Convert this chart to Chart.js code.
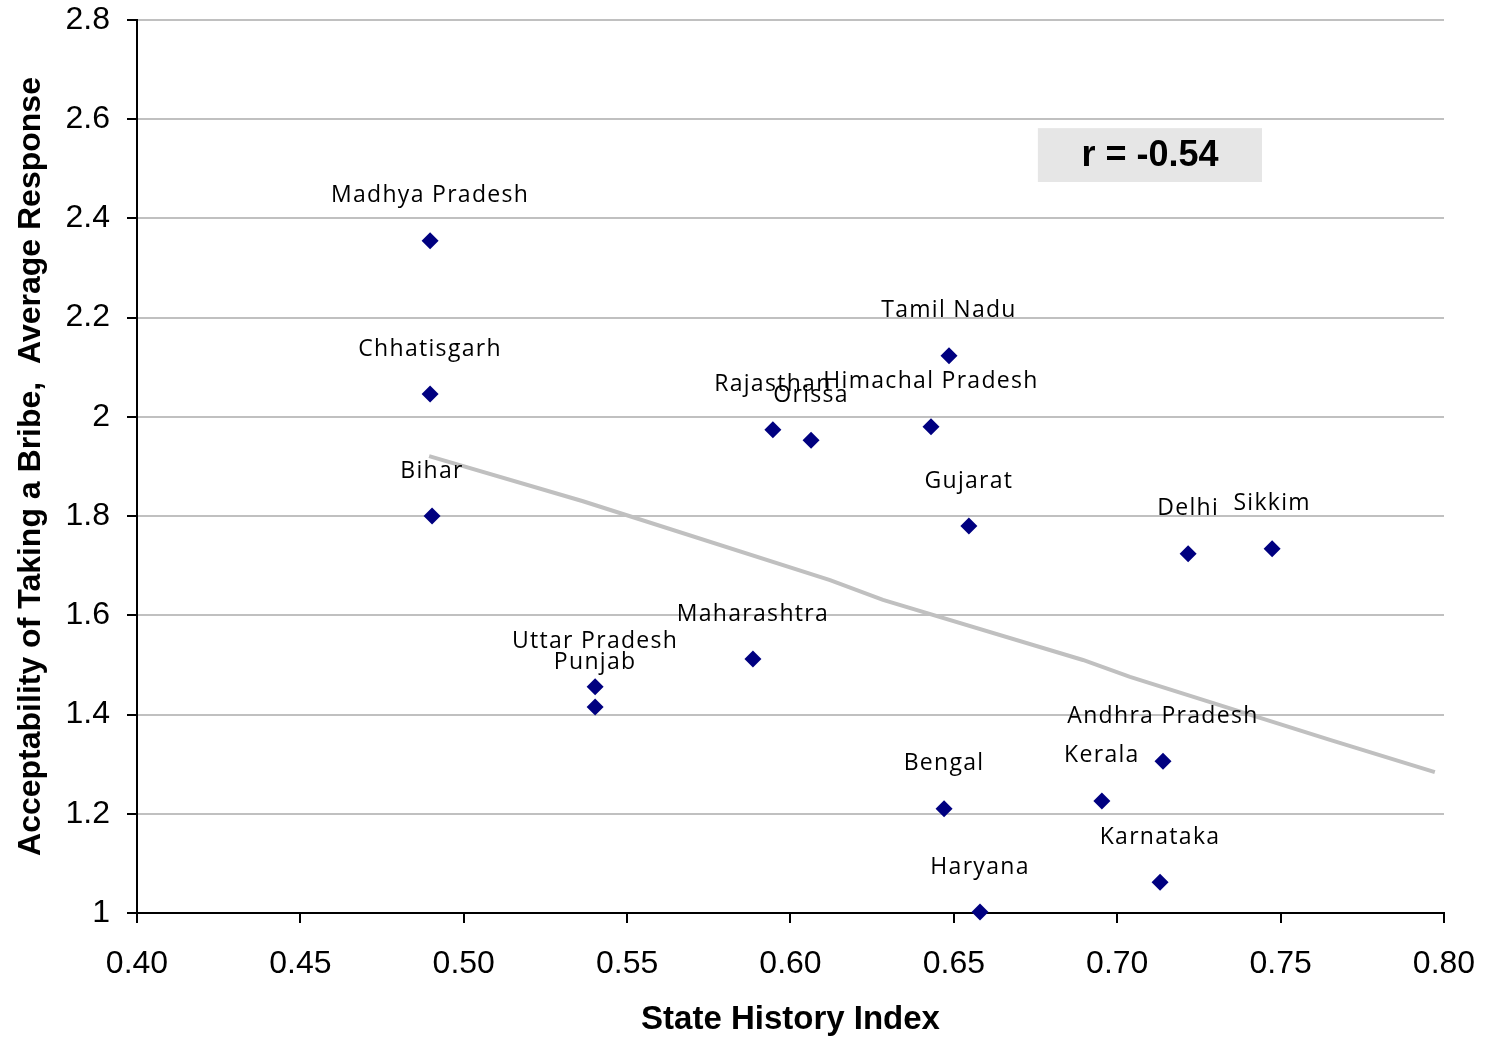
<!DOCTYPE html>
<html>
<head>
<meta charset="utf-8">
<script src="https://cdn.jsdelivr.net/npm/chart.js@4.4.1/dist/chart.umd.min.js"></script>
<style>
  html, body { margin: 0; padding: 0; background: #fff; }
  #wrap { width: 1486px; height: 1040px; }
</style>
</head>
<body>
<div id="wrap"><canvas id="scatter0" width="1486" height="1040"></canvas></div>
<script>
// states and their values
const states = ['Madhya Pradesh', 'Chhatisgarh', 'Bihar', 'Uttar Pradesh', 'Punjab', 'Maharashtra',
    'Rajasthan', 'Orissa', 'Himachal Pradesh', 'Tamil Nadu', 'Gujarat', 'Delhi', 'Sikkim',
    'Andhra Pradesh', 'Kerala', 'Bengal', 'Karnataka', 'Haryana'];
const historyIndex = [0.4897, 0.4897, 0.4903, 0.5402, 0.5402, 0.5885,
    0.5946, 0.6063, 0.6430, 0.6485, 0.6546, 0.7217, 0.7474,
    0.7140, 0.6953, 0.6470, 0.7131, 0.6580];
const bribeAccept = [2.355, 2.046, 1.800, 1.456, 1.415, 1.512,
    1.974, 1.953, 1.980, 2.123, 1.780, 1.724, 1.734,
    1.306, 1.226, 1.210, 1.062, 1.002];

// fitted line (grey), read at its bends
const fitX = [0.4894, 0.5365, 0.6121, 0.6283, 0.6895, 0.7039, 0.7651, 0.7972];
const fitY = [1.921, 1.830, 1.671, 1.631, 1.510, 1.476, 1.349, 1.284];

const xTicks = [0.40, 0.45, 0.50, 0.55, 0.60, 0.65, 0.70, 0.75, 0.80];
const yTicks = [1, 1.2, 1.4, 1.6, 1.8, 2, 2.2, 2.4, 2.6, 2.8];
const corrText = 'r = -0.54';

const pts = historyIndex.map((x, i) => ({ x: x, y: bribeAccept[i] }));
const fitPts = fitX.map((x, i) => ({ x: x, y: fitY[i] }));

// names above each marker
const stateLabels = {
    id: 'stateLabels',
    afterDatasetsDraw(chart) {
        const ctx = chart.ctx;
        const xs = chart.scales.x, ys = chart.scales.y;
        ctx.save();
        ctx.font = '23px "Open Sans"';
        ctx.letterSpacing = '1.3px';
        ctx.fillStyle = '#000';
        ctx.textAlign = 'center';
        ctx.textBaseline = 'middle';
        states.forEach((name, i) => {
            const px = xs.getPixelForValue(historyIndex[i]);
            const py = ys.getPixelForValue(bribeAccept[i]);
            ctx.fillText(name, px, py - 45);
        });
        ctx.restore();
    }
};

// grey box with r
const corrBox = {
    id: 'corrBox',
    afterDraw(chart) {
        const ctx = chart.ctx;
        const xs = chart.scales.x, ys = chart.scales.y;
        const x0 = xs.getPixelForValue(0.6757), x1 = xs.getPixelForValue(0.7443);
        const y0 = ys.getPixelForValue(2.582), y1 = ys.getPixelForValue(2.4735);
        ctx.save();
        ctx.fillStyle = '#e6e6e6';
        ctx.fillRect(x0, y0, x1 - x0, y1 - y0);
        ctx.font = 'bold 36px "Liberation Sans", Arial';
        ctx.fillStyle = '#000';
        ctx.textAlign = 'center';
        ctx.textBaseline = 'middle';
        ctx.fillText(corrText, (x0 + x1) / 2, (y0 + y1) / 2 + 1);
        ctx.restore();
    }
};

const chart0 = new Chart(document.getElementById('scatter0').getContext('2d'), {
    type: 'scatter',
    data: {
        datasets: [
            {
                label: 'States',
                data: pts,
                pointStyle: 'rectRot',
                pointRadius: 8.5,
                pointHoverRadius: 8.5,
                backgroundColor: '#000080',
                borderColor: '#000080',
                borderWidth: 0,
                clip: false,
                order: 1
            },
            {
                type: 'line',
                label: 'Fit',
                data: fitPts,
                borderColor: '#c0c0c0',
                borderWidth: 4,
                pointRadius: 0,
                tension: 0,
                fill: false,
                order: 2
            }
        ]
    },
    options: {
        responsive: false,
        animation: false,
        layout: { padding: { left: 0, top: 20, right: 42, bottom: 0 } },
        scales: {
            x: {
                type: 'linear',
                min: 0.4,
                max: 0.8,
                afterFit: s => { s.height = 127; s.paddingLeft = 0; s.paddingRight = 0; },
                afterBuildTicks: s => { s.ticks = xTicks.map(v => ({ value: v })); },
                grid: { drawOnChartArea: false, color: '#000', tickColor: '#000', tickLength: 10, lineWidth: 2 },
                border: { color: '#000', width: 2 },
                ticks: {
                    color: '#000',
                    font: { family: '"Liberation Sans", Arial', size: 32 },
                    padding: 22,
                    maxRotation: 0,
                    callback: v => v.toFixed(2)
                },
                title: {
                    display: true,
                    text: 'State History Index',
                    color: '#000',
                    font: { family: '"Liberation Sans", Arial', size: 33, weight: 'bold' },
                    padding: { top: 0, bottom: 0 }
                }
            },
            y: {
                type: 'linear',
                min: 1,
                max: 2.8,
                afterFit: s => { s.width = 137; s.paddingTop = 0; s.paddingBottom = 0; },
                afterBuildTicks: s => { s.ticks = yTicks.map(v => ({ value: v })); },
                grid: { color: '#c0c0c0', tickColor: '#000', tickLength: 10, lineWidth: 2 },
                border: { color: '#000', width: 2 },
                ticks: {
                    color: '#000',
                    font: { family: '"Liberation Sans", Arial', size: 32 },
                    padding: 17,
                    callback: v => String(Math.round(v * 10) / 10)
                },
                title: {
                    display: true,
                    text: 'Acceptability of Taking a Bribe,  Average Response',
                    color: '#000',
                    font: { family: '"Liberation Sans", Arial', size: 32, weight: 'bold' },
                    padding: { top: 12, bottom: 0 }
                }
            }
        },
        plugins: {
            legend: { display: false },
            tooltip: { enabled: false }
        }
    },
    plugins: [stateLabels, corrBox]
});
</script>
</body>
</html>
